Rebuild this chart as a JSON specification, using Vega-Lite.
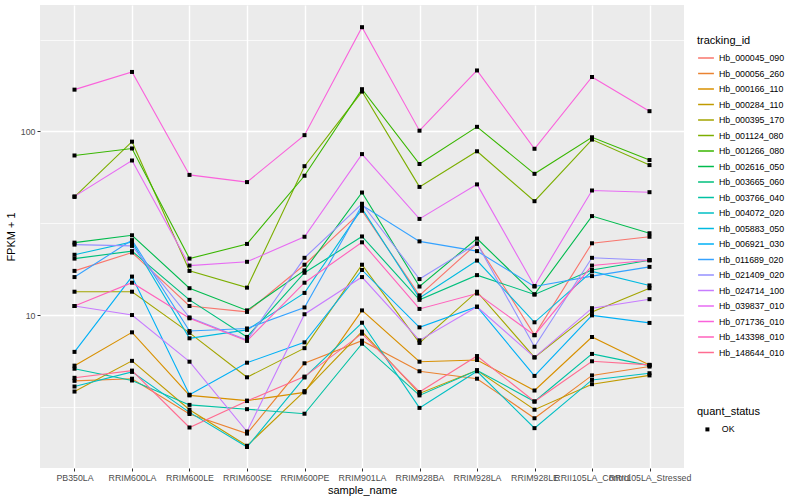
{
"$schema": "https://vega.github.io/schema/vega-lite/v6.json",
"width": 644, "height": 463,
"autosize": {"type": "none"},
"padding": {"left": 40, "top": 5, "right": 116, "bottom": 32},
"background": "white",
"config": {
  "view": {"fill": "#EBEBEB", "stroke": null},
  "font": "Liberation Sans",
  "axis": {"domain": false, "gridColor": "white", "tickColor": "#333333", "tickSize": 3, "tickWidth": 1, "labelColor": "#4D4D4D", "labelFontSize": 8.8, "labelPadding": 2, "titleFontSize": 11, "titleFontWeight": "normal", "titleColor": "black", "labelOverlap": false, "labelBound": false},
  "legend": {"titleFontSize": 11, "titleFontWeight": "normal", "titleColor": "black", "labelFontSize": 8.8, "labelColor": "black", "padding": 0}
},
"data": {"values": [
{"tracking_id":"Hb_000045_090","sample_name":"PB350LA","fpkm_plus_1":17.4,"quant_status":"OK"},
{"tracking_id":"Hb_000045_090","sample_name":"RRIM600LA","fpkm_plus_1":21.9,"quant_status":"OK"},
{"tracking_id":"Hb_000045_090","sample_name":"RRIM600LE","fpkm_plus_1":11.2,"quant_status":"OK"},
{"tracking_id":"Hb_000045_090","sample_name":"RRIM600SE","fpkm_plus_1":10.4,"quant_status":"OK"},
{"tracking_id":"Hb_000045_090","sample_name":"RRIM600PE","fpkm_plus_1":18.8,"quant_status":"OK"},
{"tracking_id":"Hb_000045_090","sample_name":"RRIM901LA","fpkm_plus_1":37.0,"quant_status":"OK"},
{"tracking_id":"Hb_000045_090","sample_name":"RRIM928BA","fpkm_plus_1":12.8,"quant_status":"OK"},
{"tracking_id":"Hb_000045_090","sample_name":"RRIM928LA","fpkm_plus_1":24.5,"quant_status":"OK"},
{"tracking_id":"Hb_000045_090","sample_name":"RRIM928LE","fpkm_plus_1":7.77,"quant_status":"OK"},
{"tracking_id":"Hb_000045_090","sample_name":"RRII105LA_Control","fpkm_plus_1":24.6,"quant_status":"OK"},
{"tracking_id":"Hb_000045_090","sample_name":"RRII105LA_Stressed","fpkm_plus_1":26.7,"quant_status":"OK"},
{"tracking_id":"Hb_000056_260","sample_name":"PB350LA","fpkm_plus_1":4.38,"quant_status":"OK"},
{"tracking_id":"Hb_000056_260","sample_name":"RRIM600LA","fpkm_plus_1":4.5,"quant_status":"OK"},
{"tracking_id":"Hb_000056_260","sample_name":"RRIM600LE","fpkm_plus_1":2.89,"quant_status":"OK"},
{"tracking_id":"Hb_000056_260","sample_name":"RRIM600SE","fpkm_plus_1":2.26,"quant_status":"OK"},
{"tracking_id":"Hb_000056_260","sample_name":"RRIM600PE","fpkm_plus_1":5.46,"quant_status":"OK"},
{"tracking_id":"Hb_000056_260","sample_name":"RRIM901LA","fpkm_plus_1":7.25,"quant_status":"OK"},
{"tracking_id":"Hb_000056_260","sample_name":"RRIM928BA","fpkm_plus_1":4.94,"quant_status":"OK"},
{"tracking_id":"Hb_000056_260","sample_name":"RRIM928LA","fpkm_plus_1":4.5,"quant_status":"OK"},
{"tracking_id":"Hb_000056_260","sample_name":"RRIM928LE","fpkm_plus_1":2.74,"quant_status":"OK"},
{"tracking_id":"Hb_000056_260","sample_name":"RRII105LA_Control","fpkm_plus_1":4.69,"quant_status":"OK"},
{"tracking_id":"Hb_000056_260","sample_name":"RRII105LA_Stressed","fpkm_plus_1":5.24,"quant_status":"OK"},
{"tracking_id":"Hb_000166_110","sample_name":"PB350LA","fpkm_plus_1":5.3,"quant_status":"OK"},
{"tracking_id":"Hb_000166_110","sample_name":"RRIM600LA","fpkm_plus_1":8.05,"quant_status":"OK"},
{"tracking_id":"Hb_000166_110","sample_name":"RRIM600LE","fpkm_plus_1":3.65,"quant_status":"OK"},
{"tracking_id":"Hb_000166_110","sample_name":"RRIM600SE","fpkm_plus_1":3.42,"quant_status":"OK"},
{"tracking_id":"Hb_000166_110","sample_name":"RRIM600PE","fpkm_plus_1":3.79,"quant_status":"OK"},
{"tracking_id":"Hb_000166_110","sample_name":"RRIM901LA","fpkm_plus_1":10.6,"quant_status":"OK"},
{"tracking_id":"Hb_000166_110","sample_name":"RRIM928BA","fpkm_plus_1":5.57,"quant_status":"OK"},
{"tracking_id":"Hb_000166_110","sample_name":"RRIM928LA","fpkm_plus_1":5.69,"quant_status":"OK"},
{"tracking_id":"Hb_000166_110","sample_name":"RRIM928LE","fpkm_plus_1":3.88,"quant_status":"OK"},
{"tracking_id":"Hb_000166_110","sample_name":"RRII105LA_Control","fpkm_plus_1":7.59,"quant_status":"OK"},
{"tracking_id":"Hb_000166_110","sample_name":"RRII105LA_Stressed","fpkm_plus_1":5.35,"quant_status":"OK"},
{"tracking_id":"Hb_000284_110","sample_name":"PB350LA","fpkm_plus_1":3.83,"quant_status":"OK"},
{"tracking_id":"Hb_000284_110","sample_name":"RRIM600LA","fpkm_plus_1":5.63,"quant_status":"OK"},
{"tracking_id":"Hb_000284_110","sample_name":"RRIM600LE","fpkm_plus_1":3.05,"quant_status":"OK"},
{"tracking_id":"Hb_000284_110","sample_name":"RRIM600SE","fpkm_plus_1":1.94,"quant_status":"OK"},
{"tracking_id":"Hb_000284_110","sample_name":"RRIM600PE","fpkm_plus_1":3.85,"quant_status":"OK"},
{"tracking_id":"Hb_000284_110","sample_name":"RRIM901LA","fpkm_plus_1":8.12,"quant_status":"OK"},
{"tracking_id":"Hb_000284_110","sample_name":"RRIM928BA","fpkm_plus_1":3.74,"quant_status":"OK"},
{"tracking_id":"Hb_000284_110","sample_name":"RRIM928LA","fpkm_plus_1":5.0,"quant_status":"OK"},
{"tracking_id":"Hb_000284_110","sample_name":"RRIM928LE","fpkm_plus_1":3.05,"quant_status":"OK"},
{"tracking_id":"Hb_000284_110","sample_name":"RRII105LA_Control","fpkm_plus_1":4.2,"quant_status":"OK"},
{"tracking_id":"Hb_000284_110","sample_name":"RRII105LA_Stressed","fpkm_plus_1":4.69,"quant_status":"OK"},
{"tracking_id":"Hb_000395_170","sample_name":"PB350LA","fpkm_plus_1":13.4,"quant_status":"OK"},
{"tracking_id":"Hb_000395_170","sample_name":"RRIM600LA","fpkm_plus_1":13.4,"quant_status":"OK"},
{"tracking_id":"Hb_000395_170","sample_name":"RRIM600LE","fpkm_plus_1":8.0,"quant_status":"OK"},
{"tracking_id":"Hb_000395_170","sample_name":"RRIM600SE","fpkm_plus_1":4.58,"quant_status":"OK"},
{"tracking_id":"Hb_000395_170","sample_name":"RRIM600PE","fpkm_plus_1":6.6,"quant_status":"OK"},
{"tracking_id":"Hb_000395_170","sample_name":"RRIM901LA","fpkm_plus_1":18.8,"quant_status":"OK"},
{"tracking_id":"Hb_000395_170","sample_name":"RRIM928BA","fpkm_plus_1":7.05,"quant_status":"OK"},
{"tracking_id":"Hb_000395_170","sample_name":"RRIM928LA","fpkm_plus_1":13.4,"quant_status":"OK"},
{"tracking_id":"Hb_000395_170","sample_name":"RRIM928LE","fpkm_plus_1":5.88,"quant_status":"OK"},
{"tracking_id":"Hb_000395_170","sample_name":"RRII105LA_Control","fpkm_plus_1":10.4,"quant_status":"OK"},
{"tracking_id":"Hb_000395_170","sample_name":"RRII105LA_Stressed","fpkm_plus_1":14.0,"quant_status":"OK"},
{"tracking_id":"Hb_001124_080","sample_name":"PB350LA","fpkm_plus_1":44.0,"quant_status":"OK"},
{"tracking_id":"Hb_001124_080","sample_name":"RRIM600LA","fpkm_plus_1":88.0,"quant_status":"OK"},
{"tracking_id":"Hb_001124_080","sample_name":"RRIM600LE","fpkm_plus_1":17.4,"quant_status":"OK"},
{"tracking_id":"Hb_001124_080","sample_name":"RRIM600SE","fpkm_plus_1":14.1,"quant_status":"OK"},
{"tracking_id":"Hb_001124_080","sample_name":"RRIM600PE","fpkm_plus_1":64.7,"quant_status":"OK"},
{"tracking_id":"Hb_001124_080","sample_name":"RRIM901LA","fpkm_plus_1":165,"quant_status":"OK"},
{"tracking_id":"Hb_001124_080","sample_name":"RRIM928BA","fpkm_plus_1":49.9,"quant_status":"OK"},
{"tracking_id":"Hb_001124_080","sample_name":"RRIM928LA","fpkm_plus_1":78.0,"quant_status":"OK"},
{"tracking_id":"Hb_001124_080","sample_name":"RRIM928LE","fpkm_plus_1":41.7,"quant_status":"OK"},
{"tracking_id":"Hb_001124_080","sample_name":"RRII105LA_Control","fpkm_plus_1":90.3,"quant_status":"OK"},
{"tracking_id":"Hb_001124_080","sample_name":"RRII105LA_Stressed","fpkm_plus_1":65.6,"quant_status":"OK"},
{"tracking_id":"Hb_001266_080","sample_name":"PB350LA","fpkm_plus_1":74.0,"quant_status":"OK"},
{"tracking_id":"Hb_001266_080","sample_name":"RRIM600LA","fpkm_plus_1":80.8,"quant_status":"OK"},
{"tracking_id":"Hb_001266_080","sample_name":"RRIM600LE","fpkm_plus_1":20.3,"quant_status":"OK"},
{"tracking_id":"Hb_001266_080","sample_name":"RRIM600SE","fpkm_plus_1":24.4,"quant_status":"OK"},
{"tracking_id":"Hb_001266_080","sample_name":"RRIM600PE","fpkm_plus_1":57.4,"quant_status":"OK"},
{"tracking_id":"Hb_001266_080","sample_name":"RRIM901LA","fpkm_plus_1":170,"quant_status":"OK"},
{"tracking_id":"Hb_001266_080","sample_name":"RRIM928BA","fpkm_plus_1":66.5,"quant_status":"OK"},
{"tracking_id":"Hb_001266_080","sample_name":"RRIM928LA","fpkm_plus_1":106,"quant_status":"OK"},
{"tracking_id":"Hb_001266_080","sample_name":"RRIM928LE","fpkm_plus_1":58.8,"quant_status":"OK"},
{"tracking_id":"Hb_001266_080","sample_name":"RRII105LA_Control","fpkm_plus_1":93.0,"quant_status":"OK"},
{"tracking_id":"Hb_001266_080","sample_name":"RRII105LA_Stressed","fpkm_plus_1":69.9,"quant_status":"OK"},
{"tracking_id":"Hb_002616_050","sample_name":"PB350LA","fpkm_plus_1":24.8,"quant_status":"OK"},
{"tracking_id":"Hb_002616_050","sample_name":"RRIM600LA","fpkm_plus_1":27.2,"quant_status":"OK"},
{"tracking_id":"Hb_002616_050","sample_name":"RRIM600LE","fpkm_plus_1":14.0,"quant_status":"OK"},
{"tracking_id":"Hb_002616_050","sample_name":"RRIM600SE","fpkm_plus_1":10.6,"quant_status":"OK"},
{"tracking_id":"Hb_002616_050","sample_name":"RRIM600PE","fpkm_plus_1":17.5,"quant_status":"OK"},
{"tracking_id":"Hb_002616_050","sample_name":"RRIM901LA","fpkm_plus_1":46.5,"quant_status":"OK"},
{"tracking_id":"Hb_002616_050","sample_name":"RRIM928BA","fpkm_plus_1":14.3,"quant_status":"OK"},
{"tracking_id":"Hb_002616_050","sample_name":"RRIM928LA","fpkm_plus_1":26.1,"quant_status":"OK"},
{"tracking_id":"Hb_002616_050","sample_name":"RRIM928LE","fpkm_plus_1":12.95,"quant_status":"OK"},
{"tracking_id":"Hb_002616_050","sample_name":"RRII105LA_Control","fpkm_plus_1":34.6,"quant_status":"OK"},
{"tracking_id":"Hb_002616_050","sample_name":"RRII105LA_Stressed","fpkm_plus_1":27.9,"quant_status":"OK"},
{"tracking_id":"Hb_003665_060","sample_name":"PB350LA","fpkm_plus_1":20.3,"quant_status":"OK"},
{"tracking_id":"Hb_003665_060","sample_name":"RRIM600LA","fpkm_plus_1":22.3,"quant_status":"OK"},
{"tracking_id":"Hb_003665_060","sample_name":"RRIM600LE","fpkm_plus_1":12.1,"quant_status":"OK"},
{"tracking_id":"Hb_003665_060","sample_name":"RRIM600SE","fpkm_plus_1":7.6,"quant_status":"OK"},
{"tracking_id":"Hb_003665_060","sample_name":"RRIM600PE","fpkm_plus_1":17.0,"quant_status":"OK"},
{"tracking_id":"Hb_003665_060","sample_name":"RRIM901LA","fpkm_plus_1":26.8,"quant_status":"OK"},
{"tracking_id":"Hb_003665_060","sample_name":"RRIM928BA","fpkm_plus_1":12.1,"quant_status":"OK"},
{"tracking_id":"Hb_003665_060","sample_name":"RRIM928LA","fpkm_plus_1":16.5,"quant_status":"OK"},
{"tracking_id":"Hb_003665_060","sample_name":"RRIM928LE","fpkm_plus_1":12.95,"quant_status":"OK"},
{"tracking_id":"Hb_003665_060","sample_name":"RRII105LA_Control","fpkm_plus_1":17.6,"quant_status":"OK"},
{"tracking_id":"Hb_003665_060","sample_name":"RRII105LA_Stressed","fpkm_plus_1":19.9,"quant_status":"OK"},
{"tracking_id":"Hb_003766_040","sample_name":"PB350LA","fpkm_plus_1":5.1,"quant_status":"OK"},
{"tracking_id":"Hb_003766_040","sample_name":"RRIM600LA","fpkm_plus_1":4.4,"quant_status":"OK"},
{"tracking_id":"Hb_003766_040","sample_name":"RRIM600LE","fpkm_plus_1":3.24,"quant_status":"OK"},
{"tracking_id":"Hb_003766_040","sample_name":"RRIM600SE","fpkm_plus_1":3.07,"quant_status":"OK"},
{"tracking_id":"Hb_003766_040","sample_name":"RRIM600PE","fpkm_plus_1":2.9,"quant_status":"OK"},
{"tracking_id":"Hb_003766_040","sample_name":"RRIM901LA","fpkm_plus_1":6.98,"quant_status":"OK"},
{"tracking_id":"Hb_003766_040","sample_name":"RRIM928BA","fpkm_plus_1":3.65,"quant_status":"OK"},
{"tracking_id":"Hb_003766_040","sample_name":"RRIM928LA","fpkm_plus_1":5.0,"quant_status":"OK"},
{"tracking_id":"Hb_003766_040","sample_name":"RRIM928LE","fpkm_plus_1":3.38,"quant_status":"OK"},
{"tracking_id":"Hb_003766_040","sample_name":"RRII105LA_Control","fpkm_plus_1":6.14,"quant_status":"OK"},
{"tracking_id":"Hb_003766_040","sample_name":"RRII105LA_Stressed","fpkm_plus_1":5.3,"quant_status":"OK"},
{"tracking_id":"Hb_004072_020","sample_name":"PB350LA","fpkm_plus_1":4.08,"quant_status":"OK"},
{"tracking_id":"Hb_004072_020","sample_name":"RRIM600LA","fpkm_plus_1":4.9,"quant_status":"OK"},
{"tracking_id":"Hb_004072_020","sample_name":"RRIM600LE","fpkm_plus_1":2.95,"quant_status":"OK"},
{"tracking_id":"Hb_004072_020","sample_name":"RRIM600SE","fpkm_plus_1":1.91,"quant_status":"OK"},
{"tracking_id":"Hb_004072_020","sample_name":"RRIM600PE","fpkm_plus_1":4.57,"quant_status":"OK"},
{"tracking_id":"Hb_004072_020","sample_name":"RRIM901LA","fpkm_plus_1":9.08,"quant_status":"OK"},
{"tracking_id":"Hb_004072_020","sample_name":"RRIM928BA","fpkm_plus_1":3.12,"quant_status":"OK"},
{"tracking_id":"Hb_004072_020","sample_name":"RRIM928LA","fpkm_plus_1":4.94,"quant_status":"OK"},
{"tracking_id":"Hb_004072_020","sample_name":"RRIM928LE","fpkm_plus_1":2.42,"quant_status":"OK"},
{"tracking_id":"Hb_004072_020","sample_name":"RRII105LA_Control","fpkm_plus_1":4.43,"quant_status":"OK"},
{"tracking_id":"Hb_004072_020","sample_name":"RRII105LA_Stressed","fpkm_plus_1":4.82,"quant_status":"OK"},
{"tracking_id":"Hb_005883_050","sample_name":"PB350LA","fpkm_plus_1":21.3,"quant_status":"OK"},
{"tracking_id":"Hb_005883_050","sample_name":"RRIM600LA","fpkm_plus_1":25.0,"quant_status":"OK"},
{"tracking_id":"Hb_005883_050","sample_name":"RRIM600LE","fpkm_plus_1":7.47,"quant_status":"OK"},
{"tracking_id":"Hb_005883_050","sample_name":"RRIM600SE","fpkm_plus_1":8.3,"quant_status":"OK"},
{"tracking_id":"Hb_005883_050","sample_name":"RRIM600PE","fpkm_plus_1":13.2,"quant_status":"OK"},
{"tracking_id":"Hb_005883_050","sample_name":"RRIM901LA","fpkm_plus_1":38.0,"quant_status":"OK"},
{"tracking_id":"Hb_005883_050","sample_name":"RRIM928BA","fpkm_plus_1":12.4,"quant_status":"OK"},
{"tracking_id":"Hb_005883_050","sample_name":"RRIM928LA","fpkm_plus_1":19.8,"quant_status":"OK"},
{"tracking_id":"Hb_005883_050","sample_name":"RRIM928LE","fpkm_plus_1":9.13,"quant_status":"OK"},
{"tracking_id":"Hb_005883_050","sample_name":"RRII105LA_Control","fpkm_plus_1":17.3,"quant_status":"OK"},
{"tracking_id":"Hb_005883_050","sample_name":"RRII105LA_Stressed","fpkm_plus_1":14.5,"quant_status":"OK"},
{"tracking_id":"Hb_006921_030","sample_name":"PB350LA","fpkm_plus_1":6.3,"quant_status":"OK"},
{"tracking_id":"Hb_006921_030","sample_name":"RRIM600LA","fpkm_plus_1":16.2,"quant_status":"OK"},
{"tracking_id":"Hb_006921_030","sample_name":"RRIM600LE","fpkm_plus_1":3.68,"quant_status":"OK"},
{"tracking_id":"Hb_006921_030","sample_name":"RRIM600SE","fpkm_plus_1":5.5,"quant_status":"OK"},
{"tracking_id":"Hb_006921_030","sample_name":"RRIM600PE","fpkm_plus_1":7.1,"quant_status":"OK"},
{"tracking_id":"Hb_006921_030","sample_name":"RRIM901LA","fpkm_plus_1":17.6,"quant_status":"OK"},
{"tracking_id":"Hb_006921_030","sample_name":"RRIM928BA","fpkm_plus_1":8.57,"quant_status":"OK"},
{"tracking_id":"Hb_006921_030","sample_name":"RRIM928LA","fpkm_plus_1":11.1,"quant_status":"OK"},
{"tracking_id":"Hb_006921_030","sample_name":"RRIM928LE","fpkm_plus_1":4.66,"quant_status":"OK"},
{"tracking_id":"Hb_006921_030","sample_name":"RRII105LA_Control","fpkm_plus_1":9.96,"quant_status":"OK"},
{"tracking_id":"Hb_006921_030","sample_name":"RRII105LA_Stressed","fpkm_plus_1":9.06,"quant_status":"OK"},
{"tracking_id":"Hb_011689_020","sample_name":"PB350LA","fpkm_plus_1":16.1,"quant_status":"OK"},
{"tracking_id":"Hb_011689_020","sample_name":"RRIM600LA","fpkm_plus_1":25.6,"quant_status":"OK"},
{"tracking_id":"Hb_011689_020","sample_name":"RRIM600LE","fpkm_plus_1":8.18,"quant_status":"OK"},
{"tracking_id":"Hb_011689_020","sample_name":"RRIM600SE","fpkm_plus_1":8.45,"quant_status":"OK"},
{"tracking_id":"Hb_011689_020","sample_name":"RRIM600PE","fpkm_plus_1":11.0,"quant_status":"OK"},
{"tracking_id":"Hb_011689_020","sample_name":"RRIM901LA","fpkm_plus_1":39.6,"quant_status":"OK"},
{"tracking_id":"Hb_011689_020","sample_name":"RRIM928BA","fpkm_plus_1":25.2,"quant_status":"OK"},
{"tracking_id":"Hb_011689_020","sample_name":"RRIM928LA","fpkm_plus_1":22.3,"quant_status":"OK"},
{"tracking_id":"Hb_011689_020","sample_name":"RRIM928LE","fpkm_plus_1":14.3,"quant_status":"OK"},
{"tracking_id":"Hb_011689_020","sample_name":"RRII105LA_Control","fpkm_plus_1":16.3,"quant_status":"OK"},
{"tracking_id":"Hb_011689_020","sample_name":"RRII105LA_Stressed","fpkm_plus_1":18.3,"quant_status":"OK"},
{"tracking_id":"Hb_021409_020","sample_name":"PB350LA","fpkm_plus_1":24.2,"quant_status":"OK"},
{"tracking_id":"Hb_021409_020","sample_name":"RRIM600LA","fpkm_plus_1":23.8,"quant_status":"OK"},
{"tracking_id":"Hb_021409_020","sample_name":"RRIM600LE","fpkm_plus_1":9.7,"quant_status":"OK"},
{"tracking_id":"Hb_021409_020","sample_name":"RRIM600SE","fpkm_plus_1":7.3,"quant_status":"OK"},
{"tracking_id":"Hb_021409_020","sample_name":"RRIM600PE","fpkm_plus_1":20.5,"quant_status":"OK"},
{"tracking_id":"Hb_021409_020","sample_name":"RRIM901LA","fpkm_plus_1":40.4,"quant_status":"OK"},
{"tracking_id":"Hb_021409_020","sample_name":"RRIM928BA","fpkm_plus_1":15.7,"quant_status":"OK"},
{"tracking_id":"Hb_021409_020","sample_name":"RRIM928LA","fpkm_plus_1":24.5,"quant_status":"OK"},
{"tracking_id":"Hb_021409_020","sample_name":"RRIM928LE","fpkm_plus_1":6.72,"quant_status":"OK"},
{"tracking_id":"Hb_021409_020","sample_name":"RRII105LA_Control","fpkm_plus_1":20.5,"quant_status":"OK"},
{"tracking_id":"Hb_021409_020","sample_name":"RRII105LA_Stressed","fpkm_plus_1":19.9,"quant_status":"OK"},
{"tracking_id":"Hb_024714_100","sample_name":"PB350LA","fpkm_plus_1":11.2,"quant_status":"OK"},
{"tracking_id":"Hb_024714_100","sample_name":"RRIM600LA","fpkm_plus_1":10.0,"quant_status":"OK"},
{"tracking_id":"Hb_024714_100","sample_name":"RRIM600LE","fpkm_plus_1":5.57,"quant_status":"OK"},
{"tracking_id":"Hb_024714_100","sample_name":"RRIM600SE","fpkm_plus_1":2.32,"quant_status":"OK"},
{"tracking_id":"Hb_024714_100","sample_name":"RRIM600PE","fpkm_plus_1":10.1,"quant_status":"OK"},
{"tracking_id":"Hb_024714_100","sample_name":"RRIM901LA","fpkm_plus_1":16.1,"quant_status":"OK"},
{"tracking_id":"Hb_024714_100","sample_name":"RRIM928BA","fpkm_plus_1":7.28,"quant_status":"OK"},
{"tracking_id":"Hb_024714_100","sample_name":"RRIM928LA","fpkm_plus_1":11.1,"quant_status":"OK"},
{"tracking_id":"Hb_024714_100","sample_name":"RRIM928LE","fpkm_plus_1":5.88,"quant_status":"OK"},
{"tracking_id":"Hb_024714_100","sample_name":"RRII105LA_Control","fpkm_plus_1":10.9,"quant_status":"OK"},
{"tracking_id":"Hb_024714_100","sample_name":"RRII105LA_Stressed","fpkm_plus_1":12.2,"quant_status":"OK"},
{"tracking_id":"Hb_039837_010","sample_name":"PB350LA","fpkm_plus_1":44.3,"quant_status":"OK"},
{"tracking_id":"Hb_039837_010","sample_name":"RRIM600LA","fpkm_plus_1":69.5,"quant_status":"OK"},
{"tracking_id":"Hb_039837_010","sample_name":"RRIM600LE","fpkm_plus_1":18.6,"quant_status":"OK"},
{"tracking_id":"Hb_039837_010","sample_name":"RRIM600SE","fpkm_plus_1":19.5,"quant_status":"OK"},
{"tracking_id":"Hb_039837_010","sample_name":"RRIM600PE","fpkm_plus_1":26.7,"quant_status":"OK"},
{"tracking_id":"Hb_039837_010","sample_name":"RRIM901LA","fpkm_plus_1":75.3,"quant_status":"OK"},
{"tracking_id":"Hb_039837_010","sample_name":"RRIM928BA","fpkm_plus_1":33.4,"quant_status":"OK"},
{"tracking_id":"Hb_039837_010","sample_name":"RRIM928LA","fpkm_plus_1":51.5,"quant_status":"OK"},
{"tracking_id":"Hb_039837_010","sample_name":"RRIM928LE","fpkm_plus_1":14.4,"quant_status":"OK"},
{"tracking_id":"Hb_039837_010","sample_name":"RRII105LA_Control","fpkm_plus_1":47.7,"quant_status":"OK"},
{"tracking_id":"Hb_039837_010","sample_name":"RRII105LA_Stressed","fpkm_plus_1":46.7,"quant_status":"OK"},
{"tracking_id":"Hb_071736_010","sample_name":"PB350LA","fpkm_plus_1":169,"quant_status":"OK"},
{"tracking_id":"Hb_071736_010","sample_name":"RRIM600LA","fpkm_plus_1":211,"quant_status":"OK"},
{"tracking_id":"Hb_071736_010","sample_name":"RRIM600LE","fpkm_plus_1":58.0,"quant_status":"OK"},
{"tracking_id":"Hb_071736_010","sample_name":"RRIM600SE","fpkm_plus_1":53.0,"quant_status":"OK"},
{"tracking_id":"Hb_071736_010","sample_name":"RRIM600PE","fpkm_plus_1":95.5,"quant_status":"OK"},
{"tracking_id":"Hb_071736_010","sample_name":"RRIM901LA","fpkm_plus_1":370,"quant_status":"OK"},
{"tracking_id":"Hb_071736_010","sample_name":"RRIM928BA","fpkm_plus_1":101,"quant_status":"OK"},
{"tracking_id":"Hb_071736_010","sample_name":"RRIM928LA","fpkm_plus_1":215,"quant_status":"OK"},
{"tracking_id":"Hb_071736_010","sample_name":"RRIM928LE","fpkm_plus_1":80.5,"quant_status":"OK"},
{"tracking_id":"Hb_071736_010","sample_name":"RRII105LA_Control","fpkm_plus_1":198,"quant_status":"OK"},
{"tracking_id":"Hb_071736_010","sample_name":"RRII105LA_Stressed","fpkm_plus_1":129,"quant_status":"OK"},
{"tracking_id":"Hb_143398_010","sample_name":"PB350LA","fpkm_plus_1":11.2,"quant_status":"OK"},
{"tracking_id":"Hb_143398_010","sample_name":"RRIM600LA","fpkm_plus_1":15.0,"quant_status":"OK"},
{"tracking_id":"Hb_143398_010","sample_name":"RRIM600LE","fpkm_plus_1":9.6,"quant_status":"OK"},
{"tracking_id":"Hb_143398_010","sample_name":"RRIM600SE","fpkm_plus_1":7.23,"quant_status":"OK"},
{"tracking_id":"Hb_143398_010","sample_name":"RRIM600PE","fpkm_plus_1":15.0,"quant_status":"OK"},
{"tracking_id":"Hb_143398_010","sample_name":"RRIM901LA","fpkm_plus_1":24.9,"quant_status":"OK"},
{"tracking_id":"Hb_143398_010","sample_name":"RRIM928BA","fpkm_plus_1":10.8,"quant_status":"OK"},
{"tracking_id":"Hb_143398_010","sample_name":"RRIM928LA","fpkm_plus_1":13.1,"quant_status":"OK"},
{"tracking_id":"Hb_143398_010","sample_name":"RRIM928LE","fpkm_plus_1":7.77,"quant_status":"OK"},
{"tracking_id":"Hb_143398_010","sample_name":"RRII105LA_Control","fpkm_plus_1":18.6,"quant_status":"OK"},
{"tracking_id":"Hb_143398_010","sample_name":"RRII105LA_Stressed","fpkm_plus_1":19.9,"quant_status":"OK"},
{"tracking_id":"Hb_148644_010","sample_name":"PB350LA","fpkm_plus_1":4.55,"quant_status":"OK"},
{"tracking_id":"Hb_148644_010","sample_name":"RRIM600LA","fpkm_plus_1":4.98,"quant_status":"OK"},
{"tracking_id":"Hb_148644_010","sample_name":"RRIM600LE","fpkm_plus_1":2.44,"quant_status":"OK"},
{"tracking_id":"Hb_148644_010","sample_name":"RRIM600SE","fpkm_plus_1":3.4,"quant_status":"OK"},
{"tracking_id":"Hb_148644_010","sample_name":"RRIM600PE","fpkm_plus_1":4.62,"quant_status":"OK"},
{"tracking_id":"Hb_148644_010","sample_name":"RRIM901LA","fpkm_plus_1":7.92,"quant_status":"OK"},
{"tracking_id":"Hb_148644_010","sample_name":"RRIM928BA","fpkm_plus_1":3.81,"quant_status":"OK"},
{"tracking_id":"Hb_148644_010","sample_name":"RRIM928LA","fpkm_plus_1":5.98,"quant_status":"OK"},
{"tracking_id":"Hb_148644_010","sample_name":"RRIM928LE","fpkm_plus_1":3.38,"quant_status":"OK"},
{"tracking_id":"Hb_148644_010","sample_name":"RRII105LA_Control","fpkm_plus_1":5.6,"quant_status":"OK"},
{"tracking_id":"Hb_148644_010","sample_name":"RRII105LA_Stressed","fpkm_plus_1":5.35,"quant_status":"OK"}
]},
"encoding": {
  "x": {"field": "sample_name", "type": "nominal",
        "sort": ["PB350LA","RRIM600LA","RRIM600LE","RRIM600SE","RRIM600PE","RRIM901LA","RRIM928BA","RRIM928LA","RRIM928LE","RRII105LA_Control","RRII105LA_Stressed"],
        "scale": {"type": "point", "padding": 0.6},
        "axis": {"title": "sample_name", "labelAngle": 0, "grid": true, "gridWidth": 1.4, "titlePadding": 3, "labelLimit": 0}},
  "y": {"field": "fpkm_plus_1", "type": "quantitative",
        "scale": {"type": "log", "domain": [1.468, 488.7], "nice": false, "zero": false},
        "axis": {"title": "FPKM + 1", "values": [3.1623, 10, 31.623, 100, 316.23],
                 "labelExpr": "datum.value == 10 ? '10' : (datum.value == 100 ? '100' : '')",
                 "gridWidth": {"condition": {"test": "datum.value == 10 || datum.value == 100", "value": 1.4}, "value": 0.7},
                 "tickColor": {"condition": {"test": "datum.value == 10 || datum.value == 100", "value": "#333333"}, "value": "transparent"},
                 "titlePadding": 4}}
},
"layer": [
  {"mark": {"type": "line", "strokeWidth": 1.1},
   "encoding": {
     "color": {"field": "tracking_id", "type": "nominal",
       "scale": {"domain": ["Hb_000045_090","Hb_000056_260","Hb_000166_110","Hb_000284_110","Hb_000395_170","Hb_001124_080","Hb_001266_080","Hb_002616_050","Hb_003665_060","Hb_003766_040","Hb_004072_020","Hb_005883_050","Hb_006921_030","Hb_011689_020","Hb_021409_020","Hb_024714_100","Hb_039837_010","Hb_071736_010","Hb_143398_010","Hb_148644_010"],
                 "range": ["#F8766D","#EA8331","#D89000","#C09B00","#A3A500","#7CAE00","#39B600","#00BB4E","#00BF7D","#00C1A3","#00BFC4","#00BAE0","#00B0F6","#35A2FF","#9590FF","#C77CFF","#E76BF3","#FA62DB","#FF62BC","#FF6C91"]},
       "legend": {"title": "tracking_id", "orient": "none", "legendX": 657, "legendY": 30, "symbolType": "stroke", "symbolSize": 250, "symbolStrokeWidth": 1.5, "rowPadding": 1.5, "titlePadding": 3, "labelOffset": 4}}
   }},
  {"mark": {"type": "point", "filled": true, "size": 16, "opacity": 1},
   "encoding": {
     "color": {"value": "black"},
     "shape": {"field": "quant_status", "type": "nominal",
       "scale": {"domain": ["OK"], "range": ["square"]},
       "legend": {"title": "quant_status", "orient": "none", "legendX": 657, "legendY": 401, "symbolSize": 16, "symbolFillColor": "black", "symbolStrokeColor": "black", "symbolOffset": 6, "labelOffset": 10, "titlePadding": 8}}
   }}
]
}
